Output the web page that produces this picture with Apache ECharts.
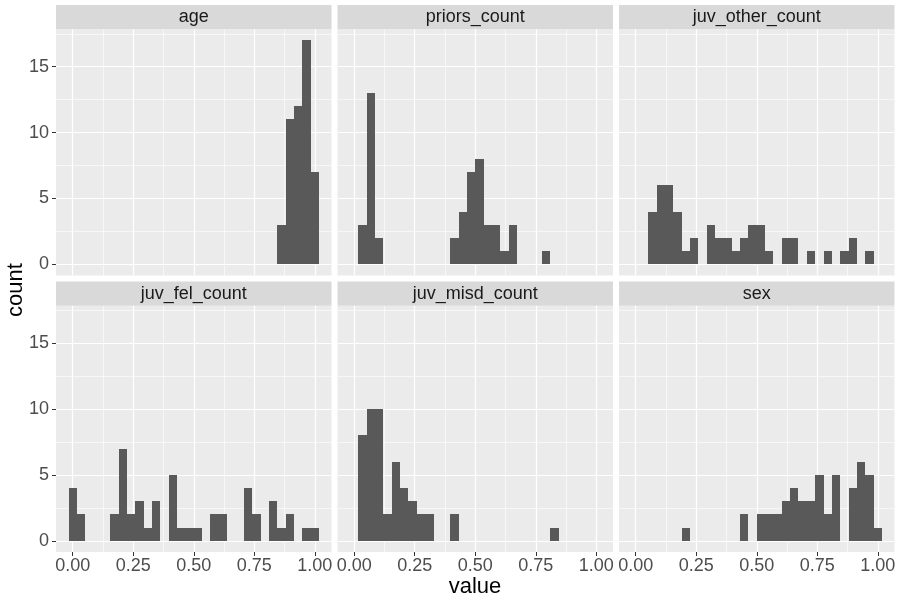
<!DOCTYPE html>
<html>
<head>
<meta charset="utf-8">
<script src="https://cdn.jsdelivr.net/npm/echarts@6/dist/echarts.min.js"></script>
<style>html,body{margin:0;padding:0;background:#fff}#chart{width:900px;height:600px}</style>
</head>
<body>
<div id="chart"></div>
<script>
// Facet names (panel order, row-wise)
const panelNames = ["age", "priors_count", "juv_other_count", "juv_fel_count", "juv_misd_count", "sex"];

// Histogram counts per bin (30 bins centred on k/29, k = 0..29)
const ageCounts        = [0,0,0,0,0,0,0,0,0,0, 0,0,0,0,0,0,0,0,0,0, 0,0,0,0,0,3,11,12,17,7];
const priorsCounts     = [0,3,13,2,0,0,0,0,0,0, 0,0,2,4,7,8,3,3,1,3, 0,0,0,1,0,0,0,0,0,0];
const juvOtherCounts   = [0,0,4,6,6,4,1,2,0,3, 2,2,1,2,3,3,1,0,2,2, 0,1,0,1,0,1,2,0,1,0];
const juvFelCounts     = [4,2,0,0,0,2,7,2,3,1, 3,0,5,1,1,1,0,2,2,0, 0,4,2,0,3,1,2,0,1,1];
const juvMisdCounts    = [0,8,10,10,2,6,4,3,2,2, 0,0,2,0,0,0,0,0,0,0, 0,0,0,0,1,0,0,0,0,0];
const sexCounts        = [0,0,0,0,0,0,1,0,0,0, 0,0,0,2,0,2,2,2,3,4, 3,3,5,2,5,0,4,6,5,1];

const panelCounts = [ageCounts, priorsCounts, juvOtherCounts, juvFelCounts, juvMisdCounts, sexCounts];

// Tick values
const xMajorTicks = [0, 0.25, 0.5, 0.75, 1];
const xMinorTicks = [0.125, 0.375, 0.625, 0.875];
const yMajorTicks = [0, 5, 10, 15];
const yMinorTicks = [2.5, 7.5, 12.5, 17.5];

const nBins = 30;
const binWidth = 1 / (nBins - 1);

const FONT = '"Liberation Sans", Arial, Helvetica, sans-serif';
const colLefts = [56, 337.5, 619];
const panelW = 275.5;
const rowTops = [29.2, 305.8];
const panelH = 246.2;
const stripH = 24.2;

const grids = [], xAxes = [], yAxes = [], series = [], graphics = [];

panelNames.forEach((name, i) => {
  const r = Math.floor(i / 3), c = i % 3;
  const left = colLefts[c], top = rowTops[r];
  grids.push({left: left, top: top, width: panelW, height: panelH, show: true,
    backgroundColor: '#EBEBEB', borderWidth: 0, containLabel: false});
  const bottomRow = r === 1, leftCol = c === 0;
  // major x axis
  xAxes.push({type: 'value', gridIndex: i, min: -0.069, max: 1.069, position: 'bottom',
    axisLine: {show: false, onZero: false},
    axisTick: {show: bottomRow, length: 4, customValues: xMajorTicks, lineStyle: {color: '#333333', width: 1}},
    axisLabel: {show: bottomRow, customValues: xMajorTicks, margin: 5, color: '#4D4D4D', fontSize: 18, fontFamily: FONT,
      formatter: v => v.toFixed(2)},
    splitLine: {show: true, lineStyle: {color: '#FFFFFF', width: 1.2}}});
  // minor x axis
  xAxes.push({type: 'value', gridIndex: i, min: -0.069, max: 1.069, position: 'bottom',
    axisLine: {show: false, onZero: false}, axisTick: {show: false, customValues: xMinorTicks},
    axisLabel: {show: false, customValues: xMinorTicks},
    splitLine: {show: true, lineStyle: {color: '#FFFFFF', width: 0.6}}});
  // major y axis
  yAxes.push({type: 'value', gridIndex: i, min: -0.85, max: 17.85, position: 'left',
    axisLine: {show: false, onZero: false},
    axisTick: {show: leftCol, length: 4, customValues: yMajorTicks, lineStyle: {color: '#333333', width: 1}},
    axisLabel: {show: leftCol, customValues: yMajorTicks, margin: 7, color: '#4D4D4D', fontSize: 18, fontFamily: FONT},
    splitLine: {show: true, lineStyle: {color: '#FFFFFF', width: 1.2}}});
  // minor y axis
  yAxes.push({type: 'value', gridIndex: i, min: -0.85, max: 17.85, position: 'left',
    axisLine: {show: false, onZero: false}, axisTick: {show: false, customValues: yMinorTicks},
    axisLabel: {show: false, customValues: yMinorTicks},
    splitLine: {show: true, lineStyle: {color: '#FFFFFF', width: 0.6}}});

  const data = [];
  panelCounts[i].forEach((cnt, k) => { if (cnt > 0) data.push([k * binWidth, cnt]); });
  series.push({type: 'custom', xAxisIndex: 2 * i, yAxisIndex: 2 * i, data: data, z: 5,
    renderItem: function (params, api) {
      const xc = api.value(0), h = api.value(1);
      const p0 = api.coord([xc - binWidth / 2, 0]);
      const p1 = api.coord([xc + binWidth / 2, h]);
      const xL = Math.round(p0[0]), xR = Math.round(p1[0]);
      const yB = Math.round(p0[1]), yT = Math.round(p1[1]);
      return {type: 'rect', shape: {x: xL, y: yT, width: xR - xL, height: yB - yT},
        style: {fill: '#595959'}};
    }});

  // strip
  graphics.push({type: 'rect', left: left, top: top - stripH, shape: {width: panelW, height: stripH},
    style: {fill: '#D9D9D9'}, silent: true});
  graphics.push({type: 'text', x: left + panelW / 2, y: top - stripH / 2,
    style: {text: name, fill: '#1A1A1A', font: '18px ' + FONT, align: 'center', verticalAlign: 'middle'}, silent: true});
});

graphics.push({type: 'text', x: 475, y: 587,
  style: {text: 'value', fill: '#000000', font: '22px ' + FONT, align: 'center', verticalAlign: 'middle'}});
graphics.push({type: 'text', x: 16, y: 290, rotation: Math.PI / 2,
  style: {text: 'count', fill: '#000000', font: '22px ' + FONT, align: 'center', verticalAlign: 'middle'}});

const chart = echarts.init(document.getElementById('chart'), null, {renderer: 'canvas'});
chart.setOption({
  animation: false,
  backgroundColor: '#FFFFFF',
  grid: grids, xAxis: xAxes, yAxis: yAxes, series: series, graphic: graphics
});
</script>
</body>
</html>
